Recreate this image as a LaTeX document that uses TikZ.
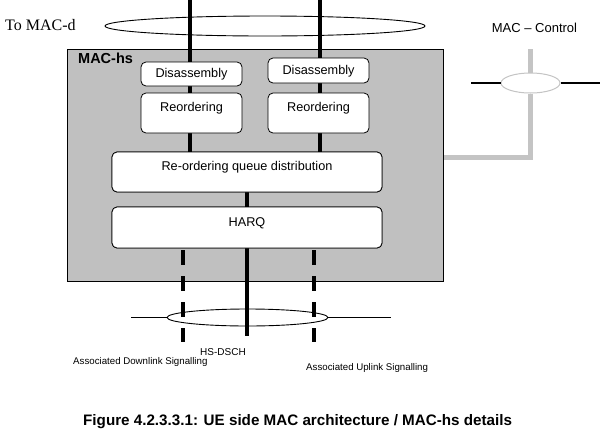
\documentclass[tikz,border=0pt]{standalone}
\usepackage{fontspec}
\setmainfont{Liberation Sans}
\newfontfamily\serifface{Liberation Serif}
\usetikzlibrary{shapes.geometric}
\definecolor{boxgray}{RGB}{192,192,192}
\definecolor{linegray}{RGB}{196,196,196}
\begin{document}
\begin{tikzpicture}[x=1pt,y=-1pt,
  box/.style={draw=black,line width=0.8pt,fill=white,rounded corners=5pt,inner sep=0pt},
  chan/.style={draw=black,line width=0.9pt,ellipse,inner sep=0pt},
  heavy/.style={line width=4pt},
  dashline/.style={line width=4pt,dash pattern=on 15pt off 11pt},
  grayline/.style={line width=5pt,draw=linegray},
  thinline/.style={line width=1.2pt},
  lbl/.style={font=\fontsize{12.7}{14}\selectfont,inner sep=0pt,anchor=base},
  small/.style={font=\fontsize{9.7}{11}\selectfont,inner sep=0pt,anchor=base west}]
\useasboundingbox (0,0) rectangle (605,437);
\fill[white] (0,0) rectangle (605,437);

% MAC-hs entity
\node[draw=black,line width=0.9pt,fill=boxgray,minimum width=376pt,minimum height=232pt,anchor=north west,inner sep=0pt] (machs) at (67,49) {};
\node[font=\bfseries\fontsize{14.5}{16}\selectfont,anchor=base west,inner sep=0pt] (machslbl) at (78,63) {MAC-hs};

% top channel ellipse
\node[chan,minimum width=320pt,minimum height=20pt] (topch) at (265,26) {};
\node[font=\serifface\fontsize{16}{18}\selectfont,anchor=base west,inner sep=0pt] (tomacd) at (5,30) {To MAC-d};

% boxes (positions)
\coordinate (t1) at (190,0);
\coordinate (t2) at (320,0);
\node[box,minimum width=270pt,minimum height=40pt] (qd) at (247,172) {};
\node[box,minimum width=270pt,minimum height=41pt] (hq) at (247,227.5) {};

% vertical flows from MAC-d
\draw[heavy] (t1) -- (t1 |- qd.north);
\draw[heavy] (t2) -- (t2 |- qd.north);

% lower flows
\coordinate (b1) at (183,342);
\coordinate (b2) at (247,336);
\coordinate (b3) at (314,342);
\node[chan,minimum width=161pt,minimum height=17pt] (botch) at (247.5,317.5) {};
\coordinate (bl) at (131,317.5);
\coordinate (br) at (391,317.5);
\draw[thinline] (bl) -- (botch.west);
\draw[thinline] (botch.east) -- (br);
\draw[heavy] (qd.south) -- (b2);
\draw[dashline] (b1 |- hq.south) ++(0,2) -- (b1);
\draw[dashline] (b3 |- hq.south) ++(0,2) -- (b3);

% white function boxes
\node[box,minimum width=101pt,minimum height=24pt] (dis1) at (191.5,74) {};
\node[box,minimum width=101pt,minimum height=25pt] (dis2) at (318.5,70.5) {};
\node[box,minimum width=101pt,minimum height=40pt] (re1) at (191.5,113) {};
\node[box,minimum width=101pt,minimum height=40pt] (re2) at (318.5,113) {};
\node[box,minimum width=270pt,minimum height=40pt] at (qd) {};
\node[box,minimum width=270pt,minimum height=41pt] at (hq) {};

\node[lbl] (dis1t) at (191.5,77.5) {Disassembly};
\node[lbl] (dis2t) at (318.5,74.3) {Disassembly};
\node[lbl] (re1t) at (191.5,111.7) {Reordering};
\node[lbl] (re2t) at (318.5,111.7) {Reordering};
\node[lbl] (qdt) at (247,170.7) {Re-ordering queue distribution};
\node[lbl] (hqt) at (247,226) {HARQ};

% MAC-Control
\node[font=\fontsize{13}{15}\selectfont,inner sep=0pt] (macc) at (534.5,28) {MAC \textendash{} Control};
\node[ellipse,draw=linegray,line width=1pt,fill=white,minimum width=59pt,minimum height=20pt,inner sep=0pt] (ctl) at (530.5,83) {};
\coordinate (cl) at (471,83);
\coordinate (cr) at (600,83);
\coordinate (ctop) at (530.5,49);
\coordinate (cbend) at (530.5,157);
\draw[thinline] (cl) -- (ctl.west);
\draw[thinline] (ctl.east) -- (cr);
\draw[grayline] (ctop) -- (ctl.north);
\draw[grayline,line join=miter] (ctl.south) -- (cbend) -- (cbend -| machs.east);

% bottom labels
\node[small,font=\fontsize{10}{11}\selectfont] (hsdsch) at (200,355) {HS-DSCH};
\node[small] (dl) at (73,364.3) {Associated Downlink Signalling};
\node[small] (ul) at (306,370) {Associated Uplink Signalling};

% caption
\node[font=\bfseries\fontsize{15.2}{17}\selectfont,anchor=base west,inner sep=0pt] (cap) at (83,425) {Figure 4.2.3.3.1: UE side MAC architecture / MAC-hs details};
\end{tikzpicture}
\end{document}
